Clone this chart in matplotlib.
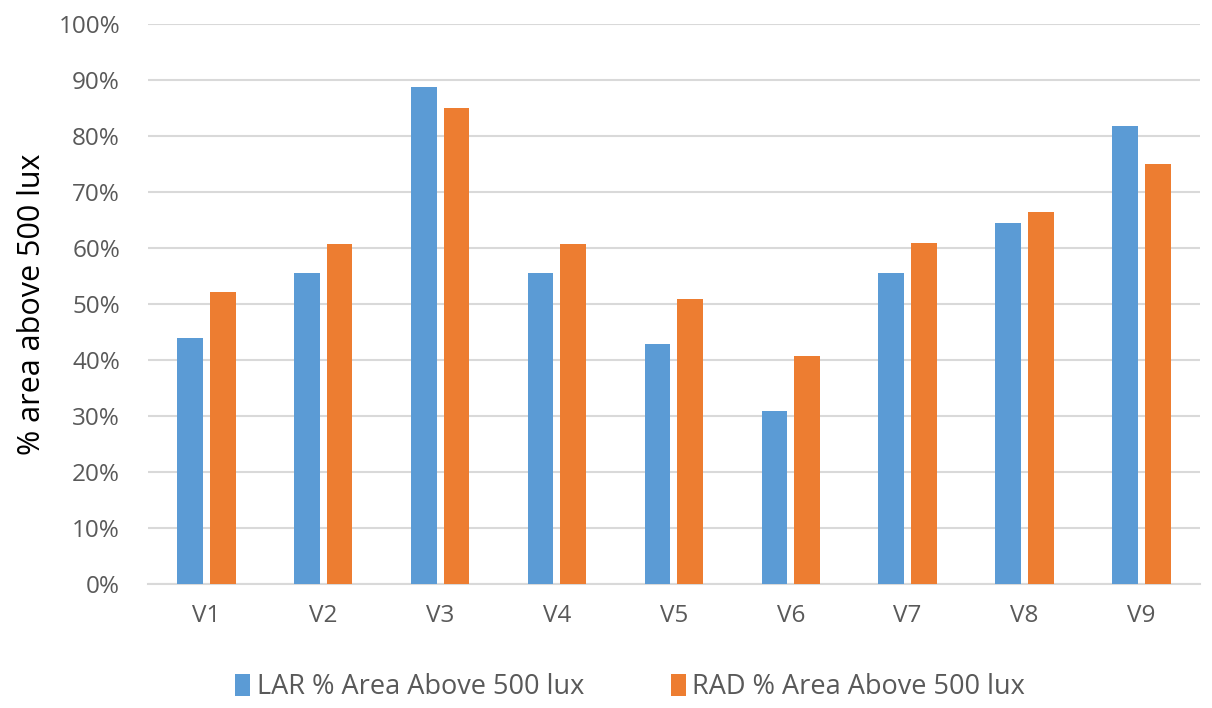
import matplotlib.pyplot as plt
import numpy as np
from matplotlib.ticker import PercentFormatter

plt.rcParams['font.family'] = ['Open Sans', 'DejaVu Sans']

# values (fraction of area above 500 lux)
categories = ['V1', 'V2', 'V3', 'V4', 'V5', 'V6', 'V7', 'V8', 'V9']
lar = [0.44, 0.555, 0.887, 0.555, 0.428, 0.309, 0.555, 0.645, 0.818]
rad = [0.521, 0.608, 0.851, 0.608, 0.509, 0.408, 0.609, 0.664, 0.751]

blue = '#5b9bd5'
orange = '#ed7d31'
grey_text = '#595959'

fig = plt.figure(figsize=(12.12, 7.08), dpi=100)
ax = fig.add_axes([0.122, 0.175, 0.868, 0.791])

x = np.arange(len(categories))
w = 0.22
ax.bar(x - 0.14, lar, w, color=blue, label='LAR % Area Above 500 lux', zorder=3)
ax.bar(x + 0.14, rad, w, color=orange, label='RAD % Area Above 500 lux', zorder=3)

ax.set_xlim(-0.5, len(categories) - 0.5)
ax.set_ylim(0, 1)
ax.set_yticks(np.arange(0, 1.01, 0.1))
ax.yaxis.set_major_formatter(PercentFormatter(1.0, decimals=0))
ax.set_xticks(x)
ax.set_xticklabels(categories)
ax.grid(axis='y', color='#d9d9d9', linewidth=1.5, zorder=0)
ax.tick_params(axis='both', length=0, labelsize=17.5, colors=grey_text)
ax.tick_params(axis='x', pad=14)
ax.tick_params(axis='y', pad=20)

for side in ['top', 'right', 'left']:
    ax.spines[side].set_visible(False)
ax.spines['bottom'].set_color('#d9d9d9')
ax.spines['bottom'].set_linewidth(1.5)

ax.set_ylabel('% area above 500 lux', fontsize=22, color='black', labelpad=8)

fig.legend(loc='lower center', bbox_to_anchor=(0.52, -0.025), ncol=2, frameon=False,
           fontsize=19.5, handlelength=0.55, handleheight=0.9, handletextpad=0.25,
           columnspacing=3.2, labelcolor=grey_text)

fig.savefig('out.png', dpi=100)
